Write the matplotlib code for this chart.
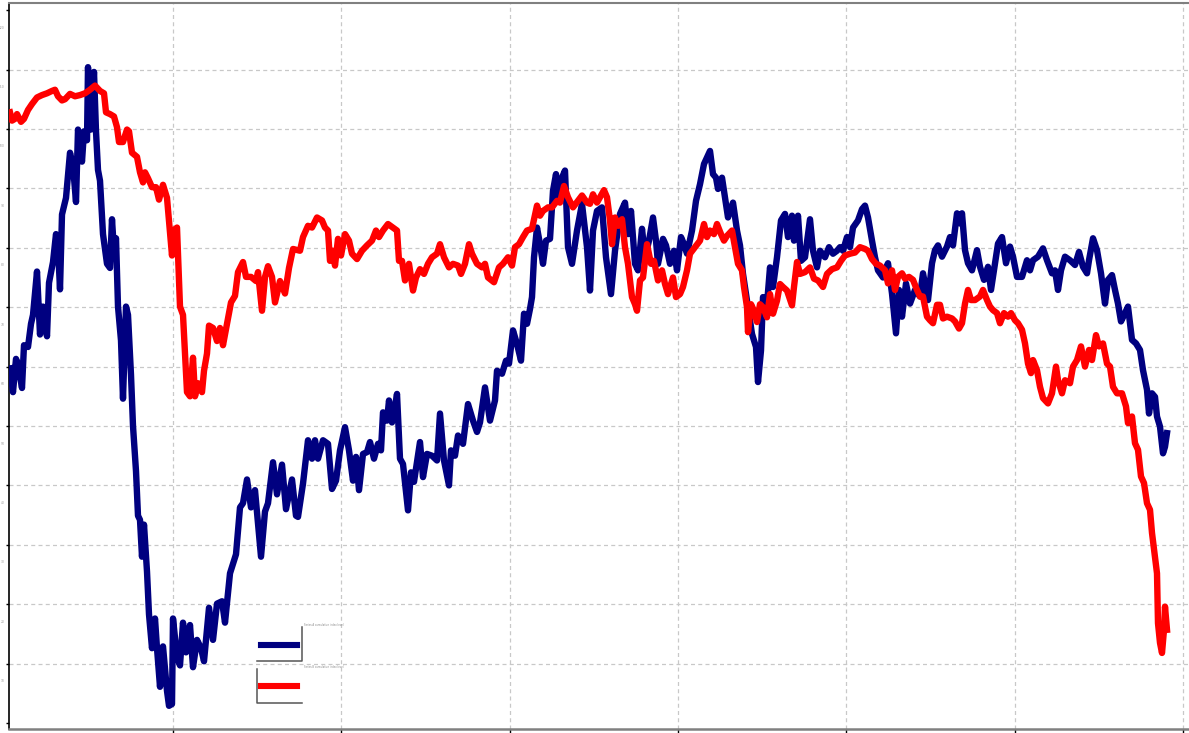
import matplotlib
matplotlib.use("Agg")
import matplotlib.pyplot as plt
from matplotlib.transforms import ScaledTranslation
from matplotlib.lines import Line2D

# ---- data (x = trading-day index, y = index level) ----
navy_x_1 = [1,4,7,9,13,15,19,22,24,28,31,34,38,40,44,47,49,51,53,57,61,64,67,69,73,75,78,79,82,85,
            87,89,91,94,98,101,103,105,107,109,112,114,117,119,122,124,127,129,131,133,135,138,140,143,146,148,151,154,158,160,
            163,164,168,171,174,177,181,184,188,192,195,200,204,208,213,216,221,227,231,234,238,242,246,252,256,259,264,268,273,277,283,287]
navy_y_1 = [59.7,55.7,61.3,60.4,56.4,63.6,63.3,67.2,68.7,76.0,65.4,70.1,65.1,74.1,77.6,82.3,80.2,73.0,85.6,88.4,
            96.0,93.8,87.7,99.9,94.5,99.6,98.1,110.4,99.9,109.6,99.6,93.1,91.3,82.3,77.3,76.6,84.8,79.4,81.6,70.1,
            64.4,54.6,70.1,68.7,58.6,50.0,42.4,34.9,34.2,28.0,33.4,25.5,18.3,12.6,17.6,12.6,6.1,12.9,5.4,2.9,
            3.2,17.6,11.1,9.7,16.9,11.9,16.5,9.4,14.0,12.6,10.4,19.4,14.0,20.1,20.5,16.9,25.2,28.4,36.3,37.0,
            41.0,36.3,39.2,28.0,35.6,37.0,43.9,38.5,43.5,36.0,41.0,34.9]
navy_x_2 = [289,294,299,303,306,309,314,319,323,327,331,336,340,344,347,350,354,358,361,365,
            369,372,374,378,380,383,386,388,391,394,399,402,405,411,414,418,423,428,431,435,
            440,442,446,449,454,459,464,468,471,476,481,486,488,493,497,500,504,508,512,515,
            518,521,523,525,528,531,534,537,541,544,547,549,553,556,559,563,568,573,578]
navy_y_2 = [34.7,40.3,47.6,44.5,47.6,44.5,47.6,47.0,39.4,40.8,45.9,49.8,45.9,40.8,44.8,39.2,45.3,45.6,47.3,44.5,
            47.0,45.9,52.3,50.9,54.3,50.6,53.2,55.4,44.5,43.6,35.8,42.2,40.6,47.3,41.4,45.3,45.0,44.2,52.1,44.2,
            40.0,45.9,45.0,48.4,47.0,53.7,50.9,49.0,50.6,56.5,50.9,54.3,59.3,58.8,61.0,60.5,66.1,63.8,61.0,68.9,
            67.2,69.7,71.7,78.4,83.4,80.6,77.3,81.2,81.5,89.6,92.4,88.5,91.8,93.0,80.1,77.3,82.9,87.4,80.1]
navy_x_3 = [581,584,588,593,597,602,606,611,616,619,622,626,629,633,636,640,644,647,649,654,
            657,661,665,668,672,675,678,683,687,691,695,698,701,704,707,709,713,716,719,724,
            728,731,734,738,743,747,749,752,754,758,761,764,768,772,776,779,783,785,789,792,
            796,801,804,808,811,816,820,824,828,831,834,838,841,844,849,853,856,859,863,866,869,874]
navy_y_3 = [72.8,82.9,86.2,86.8,78.4,72.2,79.5,85.7,87.6,82.3,86.2,77.3,76.2,83.2,78.4,81.2,85.1,81.2,77.3,81.5,
            80.4,77.3,79.5,76.2,81.8,80.6,79.0,82.9,87.9,90.7,94.1,95.2,96.3,92.4,91.8,89.9,91.8,88.5,85.1,87.6,
            82.9,80.4,75.6,71.1,65.5,63.3,57.4,62.7,71.7,70.5,76.7,73.4,78.4,84.6,85.7,81.8,85.4,81.2,85.4,77.8,
            78.4,84.8,79.5,76.7,79.5,78.4,80.1,79.0,79.5,80.1,79.5,81.8,80.1,83.4,84.6,86.5,87.1,85.1,81.2,78.4,76.2,75.0]
navy_x_4 = [876,879,883,887,890,893,897,901,906,911,914,919,923,926,929,933,938,941,944,948,
            951,953,956,959,963,968,971,975,979,982,986,989,993,997,1001,1004,1008,1013,1018,1021,
            1024,1029,1034,1038,1043,1046,1049,1052,1056,1061,1066,1070,1074,1078,1080,1084,1088,1092,1096,1099,
            1103,1106,1109,1112,1116,1119,1123,1127,1131,1134,1138,1140,1143,1146,1148,1151,1154,1156,1158]
navy_y_4 = [76.2,77.4,72.3,65.6,72.9,68.4,74.0,70.6,72.9,71.8,75.7,71.2,77.4,79.6,80.4,78.5,80.2,81.8,80.4,85.8,
            84.1,85.8,79.6,77.4,76.2,79.6,76.8,74.6,76.8,72.9,77.4,80.7,81.8,77.4,80.2,78.5,75.1,75.1,77.9,76.2,
            77.9,78.5,79.9,77.9,75.7,76.2,72.9,76.2,78.5,77.9,77.1,79.3,76.8,75.7,77.9,81.6,79.6,75.7,70.6,74.6,
            75.4,72.9,70.6,67.6,69.0,70.1,64.5,63.9,62.8,59.4,56.1,52.1,55.5,54.9,51.6,49.9,45.4,46.5,48.8]

red_x_1 = [1,3,6,8,12,15,19,23,28,33,38,43,46,49,53,56,61,66,71,76,
           81,86,91,95,97,101,105,108,110,114,118,120,123,128,131,134,136,139,143,147,
           150,154,158,160,163,165,168,171,174,178,181,184,186,189,193,195,198,200,204,208,
           211,214,218,222,226,229,234,237,242,247,249,253,256,259,263,266,271,276,280,284]
red_y_1 = [102.8,101.4,101.7,102.5,101.2,101.7,103.2,104.2,105.3,105.7,106.0,106.4,106.6,105.5,104.8,105.0,105.9,105.5,105.7,106.0,
           106.6,107.3,106.4,106.0,102.8,102.5,102.1,100.3,97.8,97.8,99.9,99.6,96.0,95.3,92.7,91.0,92.7,91.7,90.2,90.2,
           88.1,90.6,88.4,84.5,78.7,83.0,83.4,70.1,68.7,55.7,55.0,61.5,55.0,57.2,55.7,59.3,62.2,66.9,66.5,64.3,
           66.5,63.6,67.2,70.8,71.9,75.9,77.6,75.1,75.1,74.4,75.9,69.4,75.1,76.9,75.1,70.8,74.4,72.3,76.6,79.8]
red_x_2 = [291,294,299,303,308,313,316,319,321,324,326,329,332,336,340,343,348,353,358,363,
           367,370,374,379,384,388,390,393,396,400,404,407,411,415,419,423,428,431,435,440,
           444,449,452,456,460,463,468,473,476,479,485,490,494,499,503,506,510,514,518,523,
           528,531,534,539,543,548,551,555,559,564,569,573,578]
red_y_2 = [79.5,81.8,83.7,83.4,85.1,84.6,83.4,82.9,77.8,79.5,77.0,81.5,78.7,82.3,81.2,79.0,78.1,79.5,80.4,81.2,
           82.9,81.8,82.9,84.0,83.4,82.9,77.8,77.8,74.5,77.3,72.8,75.0,76.4,75.6,77.3,78.4,79.0,80.6,78.4,76.7,
           77.3,77.0,75.6,77.3,80.6,79.0,77.3,76.7,77.3,75.0,74.2,76.7,77.3,78.4,77.0,80.1,80.6,81.8,82.9,83.2,
           87.1,85.4,86.2,86.8,86.8,87.9,87.6,90.4,88.5,86.8,87.9,88.8,87.6]
red_x_3 = [581,584,588,591,595,598,601,603,606,609,613,616,619,623,626,628,631,634,638,642,
           645,649,653,656,659,664,667,671,674,678,681,686,691,695,698,701,705,708,712,715,
           718,723,726,729,733,735,738,739,742,745,748,751,754,758,761,764,768,771,774,778,
           783,785,788,791,796,801,805,809,814,818,823,828,832,836,841,846,851,856,859,863,867,871]
red_y_3 = [87.4,89.0,87.6,88.5,89.7,88.5,84.6,80.6,85.1,83.7,84.8,80.1,77.3,71.7,70.5,69.4,74.5,75.0,80.6,77.3,
           77.8,74.5,76.2,73.9,72.2,75.0,71.7,72.2,73.4,76.2,79.0,80.1,81.2,84.0,81.8,82.9,82.3,84.0,82.3,81.2,
           82.0,82.9,80.1,77.3,76.2,73.4,70.0,65.8,70.5,69.4,67.5,70.5,70.0,68.3,72.2,68.9,71.1,73.9,73.4,72.8,
           70.3,73.4,77.6,75.6,75.9,76.7,74.8,74.5,73.4,75.6,76.4,76.7,77.8,78.7,79.0,79.2,80.1,79.8,79.5,78.1,77.3,77.0]
red_x_4 = [876,879,883,886,889,893,896,900,904,908,911,914,918,921,924,928,931,934,938,943,
           946,950,953,956,959,962,966,971,974,978,981,984,988,991,995,999,1002,1006,1009,1013,
           1016,1019,1022,1024,1028,1031,1034,1039,1043,1047,1049,1053,1056,1061,1064,1068,1072,1076,1080,1083,
           1087,1090,1094,1098,1101,1104,1108,1113,1117,1119,1123,1126,1129,1132,1135,1138,1141,1143,1146,1148,
           1149,1151,1153,1155,1156,1158]
red_y_4 = [76.2,74.0,76.2,72.9,75.1,75.7,74.8,75.1,74.6,72.9,71.8,71.8,68.4,67.8,67.3,70.4,70.4,68.1,68.4,68.1,
           67.6,66.4,67.3,70.6,72.9,71.2,71.2,71.8,72.9,71.2,70.1,69.5,69.0,67.3,69.0,68.4,69.0,67.8,67.3,66.2,
           63.9,60.5,58.9,61.1,59.4,56.6,54.7,53.8,55.5,60.0,57.7,55.5,57.7,57.2,60.0,61.1,63.4,60.0,62.8,61.1,
           65.3,63.4,63.9,60.5,60.0,56.6,55.5,55.5,53.3,50.5,51.6,47.1,46.0,41.5,40.4,37.0,35.9,32.0,28.0,25.2,
           16.8,13.5,11.8,15.7,19.6,15.7]

navy_x = navy_x_1 + navy_x_2 + navy_x_3 + navy_x_4
navy_y = navy_y_1 + navy_y_2 + navy_y_3 + navy_y_4
red_x = red_x_1 + red_x_2 + red_x_3 + red_x_4
red_y = red_y_1 + red_y_2 + red_y_3 + red_y_4

y_ticks = [0, 10, 20, 30, 40, 50, 60, 70, 80, 90, 100, 110, 120]
y_tick_labels = ["", "10", "20", "30", "40", "50", "60", "70", "80", "90", "100", "110", "120"]
x_ticks = [164, 332.3, 500.6, 668.9, 837.2, 1005.5, 1173.8]
series_labels = ["Series A cumulative index level", "Series B cumulative index level"]

# ---- figure ----
W, H = 1189, 733
fig = plt.figure(figsize=(W / 100, H / 100), dpi=100)
ax = fig.add_axes([9 / W, 4 / H, 1186 / W, 726 / H])

navy = "#000080"
red = "#ff0000"
ax.plot(navy_x, navy_y, color=navy, lw=4.6, zorder=3)
ax.plot(red_x, red_y, color=red, lw=4.6, zorder=4)

ax.set_xlim(0, 1186)
ax.set_ylim(-1.0, 121.2)
ax.set_xticks(x_ticks)
ax.set_yticks(y_ticks)
ax.set_yticklabels(y_tick_labels)
ax.tick_params(axis="y", direction="out", length=2.2, width=1.0, color="black",
               labelsize=2.2, labelcolor="#9a9a9a", pad=1.2)
ax.tick_params(axis="x", direction="out", length=3, width=1.0, color="black",
               labelbottom=False)

off = ScaledTranslation(0, -0.17, fig.dpi_scale_trans)
for t in ax.yaxis.get_major_ticks():
    t.label1.set_transform(t.label1.get_transform() + off)

ax.grid(True, color="#c8c8c8", lw=0.9, linestyle=(0, (3.2, 2.6)))
ygl = ax.yaxis.get_gridlines()
ygl[0].set_visible(False)
ygl[-1].set_visible(False)

ax.spines["left"].set_color("black")
ax.spines["left"].set_linewidth(1.2)
ax.spines["bottom"].set_color("#808080")
ax.spines["bottom"].set_linewidth(1.8)
ax.spines["top"].set_color("#808080")
ax.spines["top"].set_linewidth(1.5)
ax.spines["right"].set_visible(False)

# ---- legend (custom) ----
def fx(px):
    return px / W

def fy(py):
    return 1 - py / H

frame_c = "#555555"
fig.add_artist(Line2D([fx(261), fx(297)], [fy(645), fy(645)], color=navy, lw=4.4))
fig.add_artist(Line2D([fx(257), fx(302), fx(302)], [fy(661), fy(661), fy(627)], color=frame_c, lw=1.1))
fig.add_artist(Line2D([fx(261), fx(297)], [fy(686), fy(686)], color=red, lw=4.4))
fig.add_artist(Line2D([fx(257), fx(257), fx(302)], [fy(669), fy(703), fy(703)], color=frame_c, lw=1.1))
fig.text(fx(303.5), fy(625), series_labels[0], fontsize=1.8, color="#888888", va="center", ha="left")
fig.text(fx(303.5), fy(666.5), series_labels[1], fontsize=1.8, color="#888888", va="center", ha="left")

fig.savefig("out.png", dpi=100)
